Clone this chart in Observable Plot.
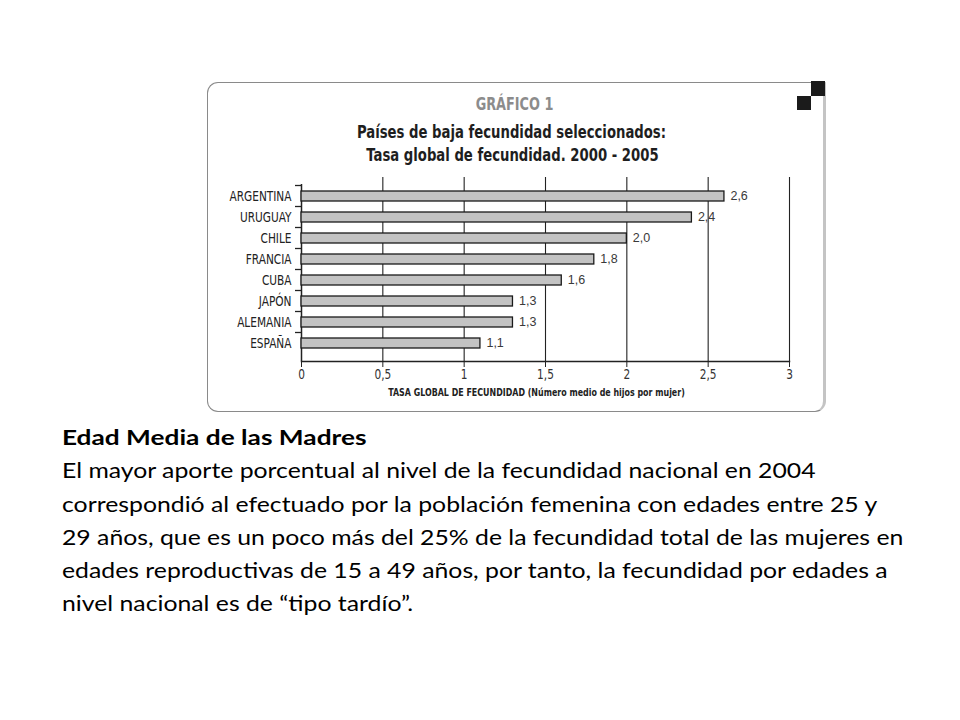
<!DOCTYPE html>
<html>
<head>
<meta charset="utf-8">
<script src="https://cdn.jsdelivr.net/npm/d3@7"></script>
<script src="https://cdn.jsdelivr.net/npm/@observablehq/plot@0.6"></script>
<style>
  html, body { margin: 0; padding: 0; background: #fff; }
  body { width: 960px; height: 720px; position: relative; overflow: hidden; }
  #panel {
    position: absolute; left: 207px; top: 82px; width: 619px; height: 330px;
    box-sizing: border-box;
    border: 1.5px solid #8a8a8a; border-right: 3px solid #c4c4c4;
    border-radius: 11px 0 11px 11px;
  }
  .sq { position: absolute; background: #1b1b1b; width: 14px; height: 15px; }
  .ttl { position: absolute; left: 207px; width: 619px; text-align: center;
    font-family: "DejaVu Sans Condensed", "DejaVu Sans", sans-serif; font-weight: bold;
    transform: scaleX(0.84); transform-origin: 50% 50%; white-space: nowrap; }
  #g1 { top: 94px; font-size: 17px; color: #8c8c8c; left: 205px; }
  #t1 { top: 122px; font-size: 17.5px; color: #1e1e1e; left: 202px; }
  #t2 { top: 145px; font-size: 17.5px; color: #1e1e1e; left: 203px; }
  #chart { position: absolute; left: 207px; top: 170px; }
  #body { position: absolute; left: 62px; top: 420px; font-family: Lato, "Open Sans", sans-serif;
    font-size: 21px; line-height: 33.3px; color: #000; }
  #body div { white-space: nowrap; transform: scaleX(1.18); transform-origin: 0 50%; }
  #body div.hd { font-weight: bold; transform: scaleX(1.25); }
</style>
</head>
<body>
<div id="panel"></div>
<div class="sq" style="left:811px; top:81px;"></div>
<div class="sq" style="left:797px; top:96px; height:14px;"></div>
<div class="ttl" id="g1"></div>
<div class="ttl" id="t1"></div>
<div class="ttl" id="t2"></div>
<div id="chart"></div>
<div id="body"></div>
<script>
// ---- data ----
const countries = ["ARGENTINA", "URUGUAY", "CHILE", "FRANCIA", "CUBA", "JAPÓN", "ALEMANIA", "ESPAÑA"];
const fertility = [2.6, 2.4, 2.0, 1.8, 1.6, 1.3, 1.3, 1.1];
const xTicks = [0, 0.5, 1, 1.5, 2, 2.5, 3];
const gridTicks = [0.5, 1, 1.5, 2, 2.5, 3];
const chartKicker = "GRÁFICO 1";
const chartTitle = ["Países de baja fecundidad seleccionados:", "Tasa global de fecundidad. 2000 - 2005"];
const xTitle = "TASA GLOBAL DE FECUNDIDAD (Número medio de hijos por mujer)";
const bodyHeading = "Edad Media de las Madres";
const bodyLines = [
  "El mayor aporte porcentual al nivel de la fecundidad nacional en 2004",
  "correspondió al efectuado por la población femenina con edades entre 25 y",
  "29 años, que es un poco más del 25% de la fecundidad total de las mujeres en",
  "edades reproductivas de 15 a 49 años, por tanto, la fecundidad por edades a",
  "nivel nacional es de “tipo tardío”."
];

document.getElementById("g1").textContent = chartKicker;
document.getElementById("t1").textContent = chartTitle[0];
document.getElementById("t2").textContent = chartTitle[1];

const data = countries.map((c, i) => ({country: c, value: fertility[i]}));
const comma = v => String(v).replace(".", ",");
const comma1 = v => v.toFixed(1).replace(".", ",");
const narrow = "'DejaVu Sans Condensed', 'DejaVu Sans', sans-serif";

const chart = Plot.plot({
  width: 619,
  height: 235,
  marginLeft: 94,
  marginRight: 37,
  marginTop: 7,
  marginBottom: 44,
  style: {fontFamily: narrow, fontSize: "13.5px", color: "#222", background: "transparent", overflow: "visible"},
  x: {domain: [0, 3]},
  y: {domain: countries, paddingInner: 0.545, paddingOuter: 0.455},
  marks: [
    Plot.ruleX(gridTicks, {stroke: "#222", strokeWidth: 1.1}),
    Plot.ruleX([0], {insetTop: 7, stroke: "#222", strokeWidth: 1.5}),
    Plot.barX(data, {x: "value", y: "country", fill: "#c3c3c3", stroke: "#1a1a1a", strokeWidth: 1.3}),
    Plot.text(data, {x: "value", y: "country", text: d => comma1(d.value), textAnchor: "start", dx: 6, dy: -1,
      fill: "#3a3a3a", fontSize: 12.5, fontFamily: "'Liberation Sans', Arial, sans-serif"}),
    Plot.axisY({tickSize: 6, tickFormat: () => "", dy: -11, stroke: "#222", strokeWidth: 1.3, label: null}),
    Plot.axisY({tickSize: 0, tickPadding: 10, label: null, fill: "#222", fontSize: 14}),
    Plot.frame({anchor: "bottom", stroke: "#222", strokeWidth: 1.5}),
    Plot.axisX({ticks: xTicks, tickSize: 6, tickPadding: 2, tickFormat: comma, label: null, stroke: "#222", fill: "#333", fontSize: 14}),
    Plot.text([xTitle], {frameAnchor: "bottom", dy: 34, dx: -9, fontSize: 10.5, fontWeight: "bold", fill: "#222"})
  ]
});
// condensed look: narrow texts horizontally around their own anchor point
function narrowText(t, s) {
  const x = +(t.getAttribute("x") || 0);
  const tr = t.getAttribute("transform") || "";
  t.setAttribute("transform", `${tr} translate(${x},0) scale(${s},1) translate(${-x},0)`);
}
chart.querySelectorAll("g[aria-label='y-axis tick label'] text, g[aria-label='x-axis tick label'] text")
  .forEach(t => narrowText(t, 0.84));
Array.from(chart.querySelectorAll("text")).filter(t => t.textContent === xTitle)
  .forEach(t => narrowText(t, 0.84));
document.getElementById("chart").appendChild(chart);

const body = document.getElementById("body");
const h = document.createElement("div");
h.className = "hd"; h.textContent = bodyHeading; body.appendChild(h);
bodyLines.forEach(t => { const d = document.createElement("div"); d.textContent = t; body.appendChild(d); });
</script>
</body>
</html>
